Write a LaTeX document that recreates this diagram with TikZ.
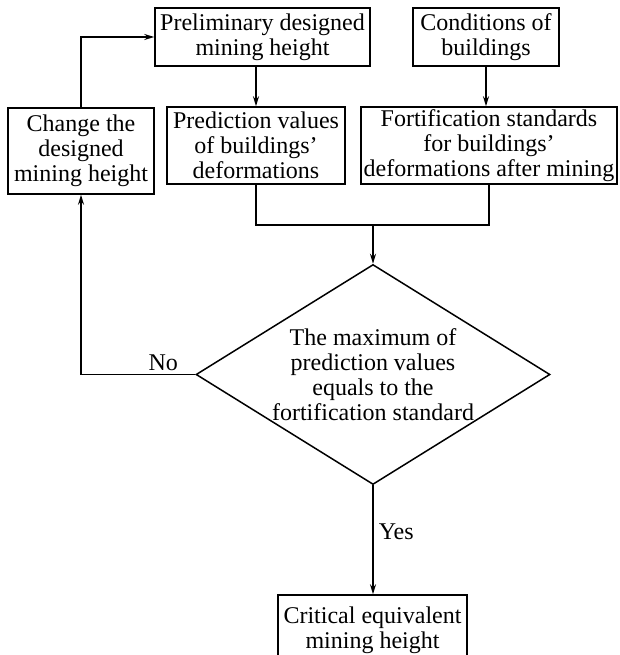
\documentclass[tikz,border=0pt]{standalone}
\usepackage{fontspec}
\setmainfont{Liberation Serif}
\usetikzlibrary{shapes.geometric,arrows.meta}

\begin{document}
\begin{tikzpicture}[x=1pt,y=-1pt]
    % Styles for boxes, the decision and the connectors
    \tikzset{
        box/.style={draw, line width=1.5pt, align=center, inner sep=0pt,
            font=\fontsize{24}{25}\selectfont},
        arr/.style={-{Stealth[length=10pt,width=6pt]}, line width=1.5pt},
        lbl/.style={font=\fontsize{24}{25}\selectfont}
    }
    \useasboundingbox (0,0) rectangle (619,655);

    % Boxes of the top rows
    \node[box, minimum width=215pt, minimum height=58pt] (prelim) at (262.5,37) {Preliminary designed\\mining height};
    \node[box, minimum width=146pt, minimum height=58pt] (cond) at (486,37) {Conditions of\\buildings};
    \node[box, minimum width=146pt, minimum height=86pt] (change) at (81,151) {Change the\\designed\\mining height};
    \node[box, minimum width=178pt, minimum height=77pt] (pred) at (256,145.5) {Prediction values\\of buildings'\\deformations};
    \node[box, minimum width=256pt, minimum height=77pt] (fort) at (489,145.5) {Fortification standards\\for buildings'\\deformations after mining};

    % Decision and result
    \node[box, diamond, aspect=1.6, minimum width=354pt, minimum height=220pt] (dec) at (373,374.5)
        {The maximum of\\prediction values\\equals to the\\fortification standard};
    \node[box, minimum width=189pt, minimum height=70pt] (crit) at (372.5,630) {Critical equivalent\\mining height};

    % Merge point above the decision
    \coordinate (m) at (373,225);

    % Connectors
    \draw[arr] (prelim.south -| pred.north) -- (pred.north);
    \draw[arr] (cond.south) -- (cond.south |- fort.north);
    \draw[line width=1.5pt] (pred.south) -- (pred.south |- m) -- (fort.south |- m) -- (fort.south);
    \draw[arr] (m) -- (dec.north);
    \draw[arr] (dec.south) -- (dec.south |- crit.north) node[lbl, pos=0.43, right, inner sep=5pt] {Yes};
    \draw[arr] (dec.west) -- (change.south |- dec.west) node[lbl, pos=0.28, above, inner sep=3pt] {No} -- (change.south);
    \draw[arr] (change.north) -- (change.north |- prelim.west) -- (prelim.west);

\end{tikzpicture}
\end{document}
